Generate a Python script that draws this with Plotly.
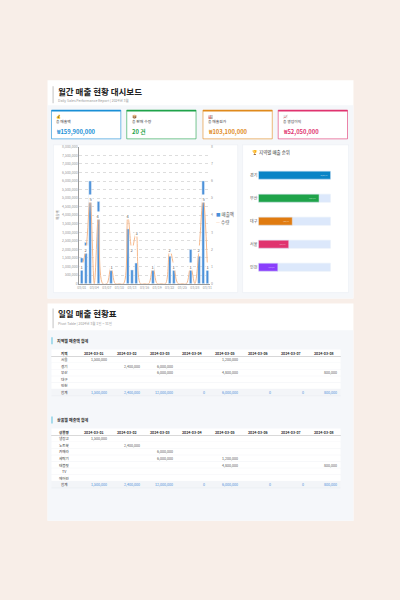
import plotly.graph_objects as go

FONT = "Noto Sans CJK KR"

days = ["03/%02d" % d for d in range(1, 32)]
sales = [1500000, 2400000, 6000000, 0, 4800000, 0, 0, 800000, 0, 0, 0, 3200000, 800000, 1200000, 0, 0, 0,
         1100000, 0, 0, 0, 1600000, 800000, 0, 0, 0, 2000000, 0, 1600000, 6000000, 800000]
qty = [1, 2, 5, 0, 4, 0, 0, 1, 0, 0, 0, 4, 2, 3, 0, 0, 0, 1, 0, 0, 0, 2, 1, 0, 0, 0, 1, 0, 2, 5, 1]

regions = ["경기", "부산", "대구", "서울", "인천"]
region_sales = [15250000, 12800000, 7150000, 6400000, 4100000]
region_colors = ["#0a84c6", "#1fa34a", "#e07b10", "#e0336f", "#8a3ffc"]

kpi_labels = ["총 매출액", "총 판매 수량", "총 매출원가", "총 영업이익"]
kpi_values = ["₩159,900,000", "20 건", "₩103,100,000", "₩52,050,000"]
kpi_icons = ["💰", "📦", "🏭", "📈"]
kpi_colors = ["#1a8fd6", "#1fa34a", "#e08a1c", "#e0336f"]

dates = ["2024-03-01", "2024-03-02", "2024-03-03", "2024-03-04",
         "2024-03-05", "2024-03-06", "2024-03-07", "2024-03-08"]
t1_rows = ["서울", "경기", "부산", "대구", "인천"]
t1_vals = [
    [1500000, None, None, None, 1200000, None, None, None],
    [None, 2400000, 6000000, None, None, None, None, None],
    [None, None, 6000000, None, 4800000, None, None, 800000],
    [None] * 8,
    [None] * 8,
]
t2_rows = ["냉장고", "노트북", "카메라", "세탁기", "태블릿", "TV", "에어컨"]
t2_vals = [
    [1500000, None, None, None, None, None, None, None],
    [None, 2400000, None, None, None, None, None, None],
    [None, None, 6000000, None, None, None, None, None],
    [None, None, 6000000, None, 1200000, None, None, None],
    [None, None, None, None, 4800000, None, None, 800000],
    [None] * 8,
    [None] * 8,
]


def py(p):
    return 1 - p / 600.0


def px(p):
    return p / 400.0


fig = go.Figure()

# combo chart
fig.add_trace(go.Bar(x=days, y=sales, name="매출액", marker_color="#4a90d9", width=0.6,
                     xaxis="x", yaxis="y"))
fig.add_trace(go.Scatter(x=days, y=qty, name="수량", mode="lines", line=dict(color="#f6b98c", width=1, shape="spline"),
                         xaxis="x", yaxis="y2"))

# region bars: background track + value
fig.add_trace(go.Bar(y=regions, x=[max(region_sales)] * len(regions), orientation="h", marker_color="#dce8fb",
                     width=0.35, hoverinfo="skip", xaxis="x3", yaxis="y3"))
fig.add_trace(go.Bar(y=regions, x=region_sales, orientation="h", marker_color=region_colors, width=0.35,
                     text=["{:,}".format(v) for v in region_sales], textposition="inside",
                     insidetextanchor="end", textfont=dict(size=4, color="white"),
                     xaxis="x3", yaxis="y3"))

shapes = []
ann = []


def rect(x0, y0, x1, y1, fill, line=None, lw=0):
    shapes.append(dict(type="rect", xref="paper", yref="paper", x0=px(x0), x1=px(x1), y0=py(y1), y1=py(y0),
                       fillcolor=fill, line=dict(color=line or fill, width=lw), layer="below"))


def hline(x0, x1, y, color, w):
    shapes.append(dict(type="line", xref="paper", yref="paper", x0=px(x0), x1=px(x1), y0=py(y), y1=py(y),
                       line=dict(color=color, width=w), layer="below"))


def text(x, y, s, size, color="#333", bold=False, anchor="left"):
    ann.append(dict(xref="paper", yref="paper", x=px(x), y=py(y), text="<b>%s</b>" % s if bold else s,
                    showarrow=False, xanchor=anchor, yanchor="middle",
                    font=dict(size=size, color=color, family=FONT)))


def fmt(v):
    return "" if v is None else "{:,}".format(v)


def add_table(rows, vals, head, y_head, row_h):
    totals = [sum(r[i] or 0 for r in vals) for i in range(8)]
    left, right = 50, 342
    first_w = 26
    col_w = (right - left - first_w) / 8.0
    rect(left, y_head - 3.5, right, y_head + 3.5, "white")
    hline(left, right, y_head + 3.5, "#999", 0.8)
    text(left + first_w / 2, y_head, "<b>%s</b>" % head, 3.6, "#333", anchor="center")
    for i, d in enumerate(dates):
        text(left + first_w + col_w * (i + 0.5), y_head, "<b>%s</b>" % d, 3.6, "#333", anchor="center")
    all_rows = rows + ["합계"]
    for j, name in enumerate(all_rows):
        yc = y_head + 3.5 + row_h * (j + 0.5)
        total = j == len(rows)
        rect(left, yc - row_h / 2, right, yc + row_h / 2, "#f3f5f8" if total else "white")
        hline(left, right, yc + row_h / 2, "#e6e9ee", 0.4)
        text(left + first_w / 2, yc, name, 3.6, "#333", anchor="center")
        for i in range(8):
            s = "{:,}".format(totals[i]) if total else fmt(vals[j][i])
            text(left + first_w + col_w * (i + 1) - 1.5, yc, s, 3.6, "#4a90d9" if total else "#555",
                 anchor="right")


# cards
rect(46, 78, 355, 298, "white")
rect(46, 103, 355, 298, "#f5f7fa")
rect(46, 303, 355, 522, "white")
rect(46, 330, 355, 522, "#f5f7fa")
rect(52, 143, 238, 292, "white", "#e8edf3", 0.5)
rect(243, 143, 350, 292, "white", "#e8edf3", 0.5)
rect(51, 84, 52.2, 101, "#cccccc")
rect(51, 308, 52.2, 328, "#cccccc")
rect(50, 337, 51, 344, "#5bc0de")
rect(50, 417, 51, 424, "#5bc0de")
text(55, 89, "월간 매출 현황 대시보드", 8.5, "#222", True)
text(55, 98.5, "Daily Sales Performance Report | 2024년 3월", 3.5, "#999")
text(55, 313, "일일 매출 현황표", 8.5, "#222", True)
text(55, 323, "Pivot Table | 2024년 3월 1일 ~ 31일", 3.5, "#999")
text(54, 340.5, "지역별 매출액 합계", 4, "#333", True)
text(54, 420.5, "상품별 매출액 합계", 4, "#333", True)
text(251, 151, "🏆 지역별 매출 순위", 4.5, "#333")

add_table(t1_rows, t1_vals, "지역", 353, 6.6)
add_table(t2_rows, t2_vals, "상품명", 432.7, 6.6)

kx = [50, 126, 203, 279]
for i in range(4):
    x0 = kx[i]
    rect(x0, 108, x0 + 70, 137, "white", kpi_colors[i], 0.6)
    rect(x0, 108, x0 + 70, 109.5, kpi_colors[i])
    text(x0 + 3, 113.5, kpi_icons[i], 4)
    text(x0 + 3, 120, kpi_labels[i], 3.8, "#444")
    text(x0 + 3, 129.5, kpi_values[i], 5.8, kpi_colors[i], True)

# legend drawn as text
text(214, 213, "<span style='color:#4a90d9'>■</span> 매출액", 4.5, "#555")
text(214, 221, "<span style='color:#f6b98c'>—</span> 수량", 4.5, "#555")

for d, q in zip(days, qty):
    if q > 0:
        ann.append(dict(x=d, y=q, xref="x", yref="y2", text=str(q), showarrow=False, bgcolor="white",
                        font=dict(size=4, color="#555"), borderpad=0.5, yanchor="middle"))

fig.update_layout(
    width=400, height=600, margin=dict(l=0, r=0, t=0, b=0), showlegend=False,
    paper_bgcolor="#f8eee8", plot_bgcolor="white", font=dict(family=FONT),
    shapes=shapes, annotations=ann, bargap=0.4, barmode="overlay",
    xaxis=dict(domain=[px(78), px(210)], anchor="y", tickvals=days[::3], tickfont=dict(size=3.5, color="#999"),
               tickangle=0, showline=True, linecolor="#999", linewidth=0.8),
    yaxis=dict(domain=[py(283), py(145)], range=[0, 8000000], dtick=500000, tickformat=",",
               tickfont=dict(size=3.5, color="#999"), gridcolor="#ddd", griddash="dot",
               showline=True, linecolor="#999", linewidth=0.8,
               title=dict(text="매출액", font=dict(size=3.5, color="#999"), standoff=2)),
    yaxis2=dict(overlaying="y", side="right", range=[0, 8], dtick=1, showgrid=False, anchor="x",
                tickfont=dict(size=3.5, color="#999")),
    xaxis3=dict(domain=[px(259), px(332)], anchor="y3", visible=False, range=[0, max(region_sales)]),
    yaxis3=dict(domain=[py(278), py(162)], anchor="x3", autorange="reversed",
                tickfont=dict(size=4, color="#555"), showgrid=False),
)

fig.write_html("out.html", config={"displayModeBar": False}, post_script="document.body.style.margin='0';")
